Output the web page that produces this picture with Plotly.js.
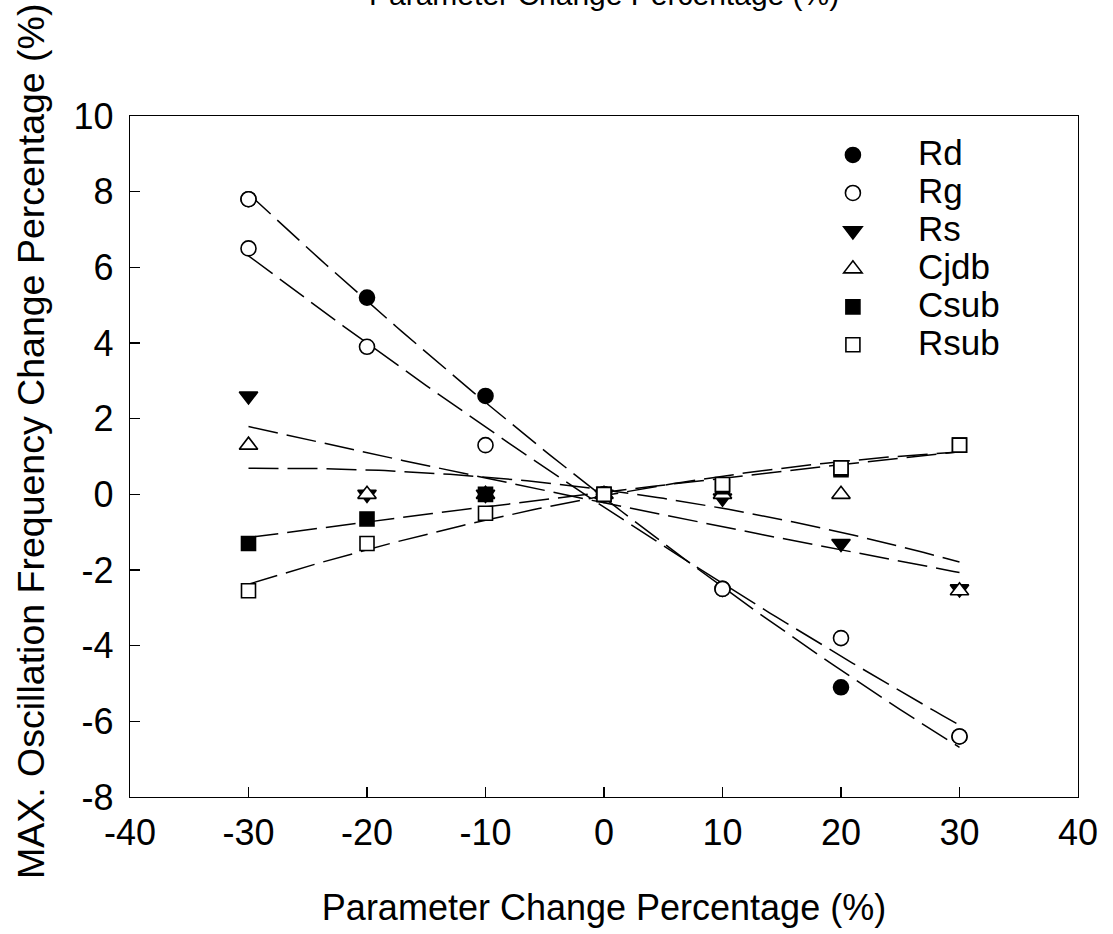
<!DOCTYPE html>
<html>
<head>
<meta charset="utf-8">
<script src="https://cdn.plot.ly/plotly-3.0.1.min.js"></script>
<style>
  html, body { margin: 0; padding: 0; background: #ffffff; }
  #chart { width: 1113px; height: 934px; }
</style>
</head>
<body>
<div id="chart"></div>
<script>
// Parameter change (%) applied to each device parameter
const pct = [-30, -20, -10, 0, 10, 20, 30];

// Resulting change of the max. oscillation frequency (%)
const rd   = [7.8, 5.2, 2.6, 0, -2.5, -5.1, -6.4];
const rg   = [6.5, 3.9, 1.3, 0, -2.5, -3.8, -6.4];
const rs   = [2.6, 0, 0, 0, -0.1, -1.3, -2.5];
const cjdb = [1.3, 0, 0, 0, 0, 0, -2.55];
const csub = [-1.3, -0.65, 0, 0, 0.2, 0.65, 1.3];
const rsub = [-2.55, -1.3, -0.5, 0, 0.26, 0.7, 1.3];

// Rd points drawn hollow
const rdHollow = [true, false, false, false, false, false, false];

const seriesNames = ['Rd', 'Rg', 'Rs', 'Cjdb', 'Csub', 'Rsub'];

const xTicks = [-40, -30, -20, -10, 0, 10, 20, 30, 40];
const yTicks = [-8, -6, -4, -2, 0, 2, 4, 6, 8, 10];

const FONT = 'Liberation Sans, Arial, sans-serif';

// Second-order least-squares polynomial fit: returns [a, b, c] of a + b x + c x^2
function quadFit(xs, ys) {
  let s0 = 0, s1 = 0, s2 = 0, s3 = 0, s4 = 0, t0 = 0, t1 = 0, t2 = 0;
  for (let i = 0; i < xs.length; i++) {
    const x = xs[i], y = ys[i];
    s0 += 1; s1 += x; s2 += x * x; s3 += x * x * x; s4 += x * x * x * x;
    t0 += y; t1 += x * y; t2 += x * x * y;
  }
  const M = [[s0, s1, s2, t0], [s1, s2, s3, t1], [s2, s3, s4, t2]];
  for (let c = 0; c < 3; c++) {
    let p = c;
    for (let r = c + 1; r < 3; r++) if (Math.abs(M[r][c]) > Math.abs(M[p][c])) p = r;
    [M[c], M[p]] = [M[p], M[c]];
    for (let r = 0; r < 3; r++) {
      if (r === c) continue;
      const f = M[r][c] / M[c][c];
      for (let k = c; k < 4; k++) M[r][k] -= f * M[c][k];
    }
  }
  return [M[0][3] / M[0][0], M[1][3] / M[1][1], M[2][3] / M[2][2]];
}

function fitCurve(ys) {
  const [a, b, c] = quadFit(pct, ys);
  const x0 = Math.min(...pct), x1 = Math.max(...pct);
  const xs = [], yv = [];
  for (let i = 0; i <= 120; i++) {
    const x = x0 + (x1 - x0) * i / 120;
    xs.push(x);
    yv.push(a + b * x + c * x * x);
  }
  return { xs, yv };
}

const allSeries = [rd, rg, rs, cjdb, csub, rsub];
const markerStyles = [
  { symbol: 'circle',        size: 15, fill: '#000000' },
  { symbol: 'circle',        size: 15, fill: '#ffffff' },
  { symbol: 'triangle-down', size: 16, fill: '#000000' },
  { symbol: 'triangle-up',   size: 16, fill: '#ffffff' },
  { symbol: 'square',        size: 14, fill: '#000000' },
  { symbol: 'square',        size: 14, fill: '#ffffff' }
];

const traces = [];

// regression curves underneath the symbols
allSeries.forEach((ys) => {
  const f = fitCurve(ys);
  traces.push({
    x: f.xs, y: f.yv, type: 'scatter', mode: 'lines',
    line: { color: '#000000', width: 1.5, dash: '30px,9px' },
    showlegend: false, hoverinfo: 'skip'
  });
});

// data symbols; legend labels set in a larger type than the row pitch
allSeries.forEach((ys, i) => {
  const m = markerStyles[i];
  traces.push({
    x: pct, y: ys, type: 'scatter', mode: 'markers',
    name: '<span style="font-size:35px">' + seriesNames[i] + '</span>',
    marker: {
      symbol: m.symbol, size: m.size, color: m.fill,
      line: { color: '#000000', width: 1.6 }
    }
  });
});

// hollow Rd symbols
traces.push({
  x: pct.filter((_, i) => rdHollow[i]),
  y: rd.filter((_, i) => rdHollow[i]),
  type: 'scatter', mode: 'markers', showlegend: false,
  marker: { symbol: 'circle', size: 15, color: '#ffffff', line: { color: '#000000', width: 1.6 } }
});

const axisCommon = {
  showgrid: false, zeroline: false,
  showline: true, linecolor: '#000000', linewidth: 1.3, mirror: true,
  ticks: 'inside', ticklen: 10, tickwidth: 1.2, tickcolor: '#000000',
  tickfont: { family: FONT, size: 36, color: '#000000' }
};

const layout = {
  width: 1113, height: 934,
  paper_bgcolor: '#ffffff', plot_bgcolor: '#ffffff',
  margin: { l: 130, r: 35, t: 116, b: 137 },
  font: { family: FONT, color: '#000000' },
  xaxis: Object.assign({}, axisCommon, {
    range: [-40, 40], tickvals: xTicks, ticktext: xTicks.map(String),
    ticklabelstandoff: 3,
    title: { text: 'Parameter Change Percentage (%)', font: { family: FONT, size: 36, color: '#000000' }, standoff: 43 }
  }),
  yaxis: Object.assign({}, axisCommon, {
    range: [-8, 10], tickvals: yTicks, ticktext: yTicks.map(String),
    ticklabelstandoff: 8
  }),
  legend: {
    x: 0.694, y: 0.978, xanchor: 'left', yanchor: 'top',
    bgcolor: 'rgba(0,0,0,0)', borderwidth: 0,
    itemwidth: 120, tracegroupgap: 0,
    font: { family: FONT, size: 26.9, color: '#000000' }
  },
  annotations: [
    {
      text: 'MAX. Oscillation Frequency Change Percentage (%)',
      xref: 'paper', yref: 'paper', x: -0.105, y: 0.522,
      xanchor: 'center', yanchor: 'middle', textangle: -90, showarrow: false,
      font: { family: FONT, size: 37.5, color: '#000000' }
    },
    {
      text: 'Parameter Change Percentage (%)',
      xref: 'paper', yref: 'paper', x: 0.5, y: 1.178,
      xanchor: 'center', yanchor: 'middle', showarrow: false,
      font: { family: FONT, size: 30, color: '#000000' }
    }
  ],
  showlegend: true
};

Plotly.newPlot('chart', traces, layout, { displayModeBar: false, staticPlot: true });
</script>
</body>
</html>
